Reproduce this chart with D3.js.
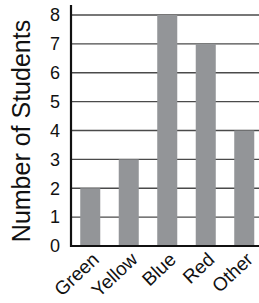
<!DOCTYPE html>
<html>
<head>
<meta charset="utf-8">
<script src="https://cdn.jsdelivr.net/npm/d3@7"></script>
<style>
  body { margin: 0; background: #fff; }
  svg { display: block; font-family: "Liberation Sans", Arial, Helvetica, sans-serif; }
</style>
</head>
<body>
<div id="vis"></div>
<script>
// favourite colours data
var colors = ['Green', 'Yellow', 'Blue', 'Red', 'Other'];
var students = [2, 3, 8, 7, 4];
var yTicks = [0, 1, 2, 3, 4, 5, 6, 7, 8];

var width = 259;
var height = 303;
var margin = {top: 15, left: 71, bottom: 57, right: 0};

var svg = d3.select('#vis').append('svg')
  .attr('width', width)
  .attr('height', height);

// scales
var x = d3.scaleBand()
  .domain(colors)
  .range([margin.left, 263.5])
  .paddingInner(0.48)
  .paddingOuter(0.24);

var y = d3.scaleLinear()
  .domain([0, 8])
  .range([height - margin.bottom, margin.top]);

// gridlines, behind the bars
svg.append('g')
  .selectAll('line')
  .data(yTicks.slice(1))
  .enter().append('line')
  .attr('x1', margin.left)
  .attr('x2', width)
  .attr('y1', function(d) { return y(d); })
  .attr('y2', function(d) { return y(d); })
  .attr('stroke', '#4a4a4a')
  .attr('stroke-width', 1.3);

// bars
svg.append('g')
  .selectAll('rect')
  .data(students)
  .enter().append('rect')
  .attr('x', function(d, i) { return x(colors[i]); })
  .attr('width', x.bandwidth())
  .attr('y', function(d) { return y(d); })
  .attr('height', function(d) { return y(0) - y(d); })
  .attr('fill', '#939598');

// y axis
var yAxis = d3.axisLeft(y)
  .tickValues(yTicks)
  .tickSize(0)
  .tickPadding(11)
  .tickFormat(d3.format('d'));

var yg = svg.append('g')
  .attr('transform', 'translate(' + margin.left + ',0)')
  .call(yAxis);
yg.select('.domain').remove();
yg.selectAll('text')
  .attr('font-size', 18)
  .attr('font-family', '"Liberation Sans", Arial, sans-serif')
  .attr('fill', '#111');

// axis lines
svg.append('line')
  .attr('x1', margin.left).attr('x2', margin.left)
  .attr('y1', 5).attr('y2', y(0) + 1)
  .attr('stroke', '#111').attr('stroke-width', 2.2);
svg.append('line')
  .attr('x1', margin.left - 1).attr('x2', width)
  .attr('y1', y(0)).attr('y2', y(0))
  .attr('stroke', '#111').attr('stroke-width', 2);

// x labels rotated
var xAxis = d3.axisBottom(x).tickSize(0).tickPadding(0);
var xg = svg.append('g')
  .attr('transform', 'translate(0,' + y(0) + ')')
  .call(xAxis);
xg.select('.domain').remove();
xg.selectAll('text')
  .attr('font-size', 19)
  .attr('font-family', '"Liberation Sans", Arial, sans-serif')
  .attr('fill', '#111')
  .attr('text-anchor', 'end')
  .attr('dy', null)
  .attr('y', null)
  .attr('transform', 'translate(10,15) rotate(-43)');

// y title
svg.append('text')
  .attr('transform', 'translate(30,' + 131 + ') rotate(-90)')
  .attr('text-anchor', 'middle')
  .attr('font-size', 25)
  .attr('fill', '#111')
  .text('Number of Students');
</script>
</body>
</html>
